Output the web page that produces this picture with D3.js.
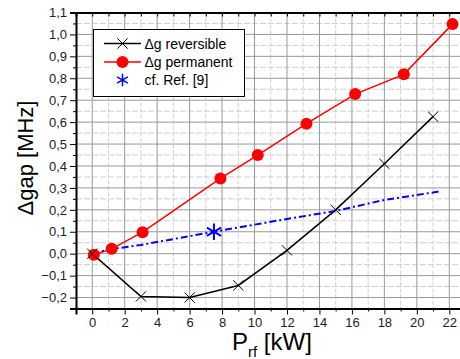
<!DOCTYPE html>
<html lang="en">
<head>
<meta charset="UTF-8">
<title>Delta gap vs Prf</title>
<script src="https://d3js.org/d3.v7.min.js"></script>
<style>
    body { margin: 0; background: #fff; }
    svg { display: block; font-family: "Liberation Sans", Arial, sans-serif; }
    .tick text { font-size: 13px; fill: #222; }
</style>
</head>
<body>
<svg id="chart" width="460" height="359"></svg>
<script>
// data
var revX  = [0, 3, 6, 9, 12, 15, 18, 21];
var revY  = [0, -0.195, -0.2, -0.145, 0.015, 0.2, 0.41, 0.625];
var permX = [0.1, 1.2, 3.1, 7.9, 10.2, 13.2, 16.2, 19.2, 22.2];
var permY = [-0.005, 0.022, 0.098, 0.343, 0.45, 0.593, 0.728, 0.818, 1.047];
var refX  = [0, 1.1, 3, 7.5, 11.5, 15, 18, 21.5];
var refY  = [0, 0.02, 0.04, 0.1, 0.152, 0.195, 0.245, 0.285];
var starX = [7.5];
var starY = [0.1];

var xMajor = d3.range(0, 23, 2);
var xMinor = d3.range(-1, 23, 1).filter(d => d % 2 !== 0);
var yMajor = d3.range(-2, 12).map(d => d / 10);
var yMinor = d3.range(-5, 22, 2).map(d => d / 20);

var legendNames = ["\u0394g reversible", "\u0394g permanent", "cf. Ref. [9]"];

var svg = d3.select("#chart");
var pLeft = 76, pTop = 12.5, pBottom = 308.5;

var x = d3.scaleLinear().domain([-1, 23]).range([pLeft, pLeft + 24 * 16.23]);
var y = d3.scaleLinear().domain([-0.25, 1.1]).range([pBottom, pTop]);

// grid
var grid = svg.append("g");
grid.selectAll(".gxm").data(xMinor.filter(d => d > -1)).enter().append("line")
    .attr("x1", d => x(d)).attr("x2", d => x(d)).attr("y1", pTop).attr("y2", pBottom)
    .attr("stroke", "#cfcfcf").attr("stroke-dasharray", "4,2");
grid.selectAll(".gym").data(yMinor).enter().append("line")
    .attr("x1", pLeft).attr("x2", 460).attr("y1", d => y(d)).attr("y2", d => y(d))
    .attr("stroke", "#cfcfcf").attr("stroke-dasharray", "6,2");
grid.selectAll(".gx").data(xMajor).enter().append("line")
    .attr("x1", d => x(d)).attr("x2", d => x(d)).attr("y1", pTop).attr("y2", pBottom)
    .attr("stroke", "#999");
grid.selectAll(".gy").data(yMajor).enter().append("line")
    .attr("x1", pLeft).attr("x2", 460).attr("y1", d => y(d)).attr("y2", d => y(d))
    .attr("stroke", "#999");

// axes
var fmt = d => d3.format(".1f")(d).replace(".", ",");

svg.append("g").attr("transform", "translate(0," + pBottom + ")")
    .call(d3.axisBottom(x).tickValues(xMajor).tickSize(6).tickPadding(3).tickFormat(d3.format("d")))
    .call(g => g.select(".domain").attr("stroke-width", 2));
svg.append("g").attr("transform", "translate(0," + pBottom + ")")
    .call(d3.axisBottom(x).tickValues(xMinor).tickSize(3).tickFormat(""))
    .call(g => g.select(".domain").remove());

svg.append("g").attr("transform", "translate(0," + pTop + ")")
    .call(d3.axisBottom(x).tickValues(xMajor.concat(xMinor)).tickSize(4).tickFormat(""))
    .call(g => g.select(".domain").attr("stroke-width", 2));

svg.append("g").attr("transform", "translate(" + pLeft + ",0)")
    .call(d3.axisLeft(y).tickValues(yMajor).tickSize(6).tickPadding(3).tickFormat(fmt))
    .call(g => g.select(".domain").attr("stroke-width", 2));
svg.append("g").attr("transform", "translate(" + pLeft + ",0)")
    .call(d3.axisLeft(y).tickValues(yMinor).tickSize(3).tickFormat(""))
    .call(g => g.select(".domain").remove());

// lines
var line = d3.line().x(d => x(d[0])).y(d => y(d[1]));
var rev = d3.zip(revX, revY), perm = d3.zip(permX, permY), ref = d3.zip(refX, refY);

svg.append("path").datum(perm).attr("d", line)
    .attr("fill", "none").attr("stroke", "#ff0000").attr("stroke-width", 1.5);
svg.append("path").datum(rev).attr("d", line)
    .attr("fill", "none").attr("stroke", "#000").attr("stroke-width", 1.5);
svg.append("path").datum(ref).attr("d", line)
    .attr("fill", "none").attr("stroke", "#0000ff").attr("stroke-width", 2)
    .attr("stroke-dasharray", "7,3,2,3");

// markers
var cross = d3.symbol().type(d3.symbolX).size(70);
var star = d3.symbol().type(d3.symbolAsterisk).size(190);
var starSmall = d3.symbol().type(d3.symbolAsterisk).size(110);

svg.selectAll(".pc").data(perm).enter().append("circle")
    .attr("cx", d => x(d[0])).attr("cy", d => y(d[1])).attr("r", 6)
    .attr("fill", "#ff0000");
svg.selectAll(".rx").data(rev).enter().append("path")
    .attr("d", cross).attr("transform", d => "translate(" + x(d[0]) + "," + y(d[1]) + ")")
    .attr("fill", "none").attr("stroke", "#000").attr("stroke-width", 1);
svg.selectAll(".st").data(d3.zip(starX, starY)).enter().append("path")
    .attr("d", star).attr("transform", d => "translate(" + x(d[0]) + "," + y(d[1]) + ")")
    .attr("fill", "none").attr("stroke", "#0000ff").attr("stroke-width", 2);

// legend
var lg = svg.append("g");
lg.append("rect").attr("x", 93.5).attr("y", 29.5).attr("width", 151).attr("height", 67)
    .attr("fill", "#fff").attr("stroke", "#000");
var rows = [43.5, 62, 80];
lg.append("line").attr("x1", 104).attr("x2", 141).attr("y1", rows[0]).attr("y2", rows[0])
    .attr("stroke", "#000").attr("stroke-width", 1.5);
lg.append("path").attr("d", cross).attr("transform", "translate(122.5," + rows[0] + ")")
    .attr("fill", "none").attr("stroke", "#000");
lg.append("line").attr("x1", 104).attr("x2", 141).attr("y1", rows[1]).attr("y2", rows[1])
    .attr("stroke", "#ff0000").attr("stroke-width", 1.5);
lg.append("circle").attr("cx", 122.5).attr("cy", rows[1]).attr("r", 6).attr("fill", "#ff0000");
lg.append("path").attr("d", starSmall).attr("transform", "translate(122.5," + rows[2] + ")")
    .attr("fill", "none").attr("stroke", "#0000ff").attr("stroke-width", 1.5);
lg.selectAll(".lt").data(legendNames).enter().append("text")
    .attr("x", 144.5).attr("y", (d, i) => rows[i] + 5)
    .attr("font-size", 14).attr("fill", "#000").text(d => d);

// axis titles
var xt = svg.append("text").attr("x", 232).attr("y", 350).attr("font-size", 24).attr("fill", "#000");
xt.append("tspan").text("P");
xt.append("tspan").attr("font-size", 15).attr("dy", 7).text("rf");
xt.append("tspan").attr("dy", -7).text(" [kW]");

svg.append("text").attr("transform", "translate(33,158) rotate(-90)")
    .attr("text-anchor", "middle").attr("font-size", 22).attr("fill", "#000")
    .text("\u0394gap [MHz]");
</script>
</body>
</html>
